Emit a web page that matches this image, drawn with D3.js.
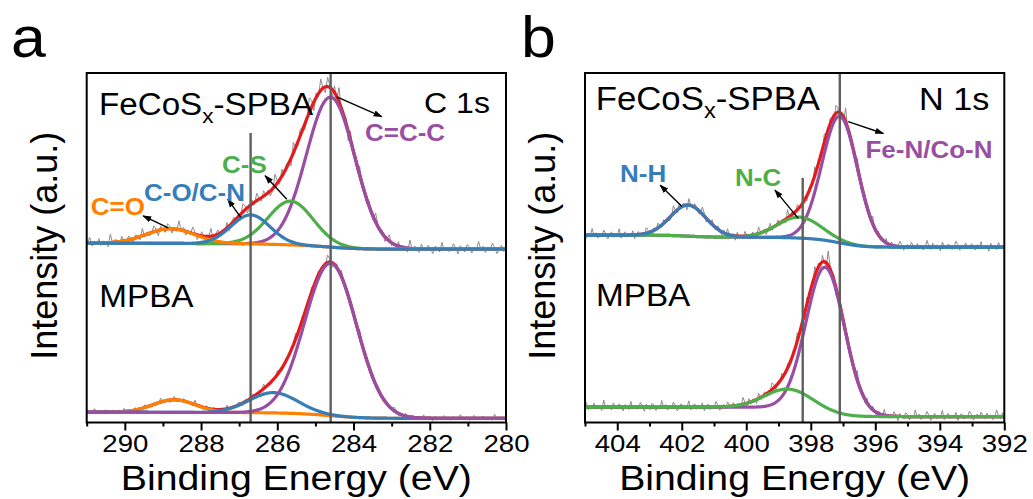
<!DOCTYPE html>
<html><head><meta charset="utf-8">
<script src="https://cdn.jsdelivr.net/npm/d3@7"></script>
<style>
body{margin:0;background:#fff}
svg{display:block}
text{font-family:"Liberation Sans",Arial,Helvetica,sans-serif}
</style>
</head><body>
<svg id="c" width="1033" height="499"></svg>
<script>
// ---------------- DATA ----------------
// C 1s, FeCoSx-SPBA : components  C=C-C, C-S, C-O/C-N, C=O
const c1sSPBA_labels = ["C=C-C", "C-S", "C-O/C-N", "C=O"];
const c1sSPBA_center = [284.6, 285.65, 286.7, 288.8];   // eV
const c1sSPBA_height = [42.9, 12.5, 8.3, 4.2];          // a.u.
const c1sSPBA_fwhm   = [1.5, 1.4, 1.2, 1.5];            // eV
const c1sSPBA_bg     = [51.3, 49.6];                    // background [high BE, low BE]
// C 1s, MPBA : components C=C-C, C-O/C-N, C=O
const c1sMPBA_center = [284.6, 286.1, 288.7];
const c1sMPBA_height = [43.6, 5.8, 3.6];
const c1sMPBA_fwhm   = [1.6, 1.5, 1.3];
const c1sMPBA_bg     = [2.95, 1.2];
// N 1s, FeCoSx-SPBA : components Fe-N/Co-N, N-C, N-H
const n1sSPBA_labels = ["Fe-N/Co-N", "N-C", "N-H"];
const n1sSPBA_center = [397.1, 398.35, 401.8];
const n1sSPBA_height = [36.2, 6.0, 8.9];
const n1sSPBA_fwhm   = [1.3, 1.6, 1.3];
const n1sSPBA_bg     = [53.6, 50.2];
// N 1s, MPBA : components Fe-N/Co-N, N-C
const n1sMPBA_center = [397.55, 398.7];
const n1sMPBA_height = [41.5, 5.4];
const n1sMPBA_fwhm   = [1.4, 1.7];
const n1sMPBA_bg     = [4.4, 1.7];
// measurement noise residuals of the raw spectra (a.u., estimated)
const rawNoise = [0.3,-0.5,0.8,-0.2,-0.9,0.4,1.2,-0.3,0.1,-0.7,0.6,-0.1,1.6,-0.4,0.2,-0.8,0.5,0.9,-0.6,0.0,
  0.7,-1.0,0.3,1.1,-0.2,-0.5,0.4,-0.3,1.4,-0.6,0.2,0.6,-0.9,0.1,0.8,-0.4,-0.1,1.0,-0.7,0.3,
  0.5,-0.2,1.7,-0.8,0.0,0.4,-0.5,0.9,-0.3,0.2,-0.6,1.2,0.1,-0.9,0.6,-0.2,0.3,1.5,-0.5,-0.1,
  0.7,-0.8,0.4,0.0,1.1,-0.6,0.2,-0.3,0.9,-1.0,0.5,0.1,-0.4,1.3,-0.2,0.6,-0.7,0.2,0.8,-0.5,
  0.0,1.0,-0.3,0.4,-0.8,0.6,1.4,-0.1,-0.6,0.3,0.7,-0.4,0.1,1.2,-0.9,0.2,0.5,-0.2,0.9,-0.6,
  0.3,1.6,-0.3,-0.7,0.4,0.0,0.8,-0.5,0.2,1.1,-0.4,0.6,-0.1,-0.8,0.5,1.3,-0.2,0.1,-0.6,0.7,
  0.3,-0.9,1.0,-0.3,0.4,-0.5,0.8,0.2,-0.7,1.5,-0.1];
// x axes
const c1sDomain = [291, 280];
const n1sDomain = [405, 392];
const c1sMajorTicks = [290, 288, 286, 284, 282, 280];
const c1sMinorTicks = [291, 289, 287, 285, 283, 281];
const n1sMajorTicks = [404, 402, 400, 398, 396, 394, 392];
const n1sMinorTicks = [405, 403, 401, 399, 397, 395, 393];
// reference (vertical) lines: energy and top intensity
const c1sRefE = [286.7, 284.6], c1sRefTop = [82.8, 100];
const n1sRefE = [398.25, 397.1], n1sRefTop = [70, 100];
// annotation arrows [E0, I0, E1, I1] (tail on curve -> head at label)
const c1sArrows = [[284.44, 93.2, 283.26, 87.5], [285.75, 63.9, 286.32, 70.6],
                   [286.96, 58.7, 287.30, 63.9], [288.86, 55.7, 289.52, 59.1]];
const n1sArrows = [[396.84, 86.1, 395.75, 82.7], [398.39, 58.4, 399.11, 66.5],
                   [402.0, 61.9, 402.67, 67.9]];

// ---------------- DRAWING ----------------
const COL = {purple:"#984ea3", green:"#4daf4a", blue:"#377eb8", orange:"#ff7f00", red:"#e41a1c"};
const svg = d3.select("#c");
const defs = svg.append("defs");
defs.append("marker").attr("id","ah").attr("viewBox","0 0 10 10")
  .attr("refX",9).attr("refY",5).attr("markerWidth",9).attr("markerHeight",9)
  .attr("markerUnits","userSpaceOnUse").attr("orient","auto")
  .append("path").attr("d","M0,1.5 L10,5 L0,8.5 Z").attr("fill","#000");

const STEP = 0.02;
function buildSpectrum(domain, sp) {
  const lo = Math.min(...domain), hi = Math.max(...domain);
  const n = Math.round((hi - lo) / STEP);
  const Es = d3.range(n + 1).map(i => lo + i * STEP);
  const comps = sp.center.map((c, k) => Es.map(E =>
    sp.height[k] * Math.exp(-4 * Math.LN2 * (E - c) * (E - c) / (sp.fwhm[k] * sp.fwhm[k]))));
  const sum = Es.map((E, i) => d3.sum(comps, cc => cc[i]));
  let acc = 0; const cum = sum.map(v => (acc += v));
  const bg = cum.map(v => sp.bg[1] + (sp.bg[0] - sp.bg[1]) * v / acc);
  return {Es, comps, sum, bg};
}

function txt(g, x, y, s, size, opt = {}) {
  const t = g.append("text")
    .attr("transform", `translate(${x},${y}) scale(${opt.sx || 1},1)`)
    .attr("font-size", size)
    .attr("font-weight", opt.bold ? "bold" : "normal")
    .attr("fill", opt.fill || "#000")
    .attr("text-anchor", opt.anchor || "start");
  if (opt.sub) {
    t.append("tspan").text(opt.sub[0]);
    t.append("tspan").attr("font-size", size * 0.68).attr("dy", size * 0.25).text(opt.sub[1]);
    t.append("tspan").attr("dy", -size * 0.25).text(opt.sub[2]);
  } else t.text(s);
  return t;
}

function panel(cfg) {
  const g = svg.append("g");
  const x = d3.scaleLinear().domain(cfg.domain).range([cfg.left, cfg.right]);
  const y = d3.scaleLinear().domain([0, 100]).range([cfg.bottom, cfg.top]);
  const clipId = "clip" + cfg.id;
  defs.append("clipPath").attr("id", clipId).append("rect")
    .attr("x", cfg.left).attr("y", cfg.top).attr("width", cfg.right - cfg.left).attr("height", cfg.bottom - cfg.top);
  const plot = g.append("g").attr("clip-path", `url(#${clipId})`);
  const line = d3.line().x(d => x(d[0])).y(d => y(d[1]));

  cfg.spectra.forEach(sp => {
    const S = buildSpectrum(cfg.domain, sp);
    // raw data
    const raw = [];
    for (let i = 0, j = 0; i < S.Es.length; i += 3, j++) {
      const nz = rawNoise[(j + sp.noiseOffset) % rawNoise.length] * sp.noiseLevel * (1 + 0.03 * S.sum[i]);
      raw.push([S.Es[i], S.bg[i] + S.sum[i] + nz]);
    }
    plot.append("path").attr("d", line(raw)).attr("fill","none").attr("stroke","#8c8c8c").attr("stroke-width",1);
    // envelope
    plot.append("path").attr("d", line(S.Es.map((E, i) => [E, S.bg[i] + S.sum[i]])))
      .attr("fill","none").attr("stroke",COL.red).attr("stroke-width",3.2);
    // components
    sp.order.forEach(k => {
      plot.append("path").attr("d", line(S.Es.map((E, i) => [E, S.bg[i] + S.comps[k][i]])))
        .attr("fill","none").attr("stroke",sp.colors[k]).attr("stroke-width",3.2)
        .attr("stroke-linejoin","round");
    });
  });

  // reference lines
  cfg.refE.forEach((e, i) => {
    g.append("line").attr("x1", x(e)).attr("x2", x(e)).attr("y1", y(cfg.refTop[i])).attr("y2", cfg.bottom)
      .attr("stroke","#5f5f5f").attr("stroke-width",2.4);
  });

  // arrows
  cfg.arrows.forEach(a => {
    g.append("line").attr("x1", x(a[0])).attr("y1", y(a[1])).attr("x2", x(a[2])).attr("y2", y(a[3]))
      .attr("stroke","#000").attr("stroke-width",1.4).attr("marker-end","url(#ah)");
  });

  // axis
  const ax = g.append("g").attr("transform", `translate(0,${cfg.bottom})`);
  ax.call(d3.axisBottom(x).tickValues(cfg.major).tickSize(8).tickFormat(d3.format("d")));
  const axm = g.append("g").attr("transform", `translate(0,${cfg.bottom})`);
  axm.call(d3.axisBottom(x).tickValues(cfg.minor).tickSize(4).tickFormat(""));
  [ax, axm].forEach(a => {
    a.select(".domain").remove();
    a.selectAll(".tick line").attr("stroke","#000").attr("stroke-width",2);
  });
  ax.attr("font-size", 24).attr("font-family", '"Liberation Sans",Arial,sans-serif');
  ax.selectAll(".tick text").attr("y", 29.5).attr("dy", null)
    .attr("font-size", 24).attr("fill","#000")
    .attr("transform", "scale(1.15,1)");

  // frame
  g.append("rect").attr("x", cfg.left).attr("y", cfg.top)
    .attr("width", cfg.right - cfg.left).attr("height", cfg.bottom - cfg.top)
    .attr("fill","none").attr("stroke","#000").attr("stroke-width",2);

  // axis titles
  txt(g, (cfg.left + cfg.right) / 2, 489.5, "Binding Energy (eV)", 36, {anchor:"middle", sx:1.09});
  g.append("text").attr("transform", `translate(${cfg.left - 30},${(cfg.top + cfg.bottom) / 2 - 2}) rotate(-90)`)
    .attr("text-anchor","middle").attr("font-size",36).text("Intensity (a.u.)");
  return g;
}

const gA = panel({
  id: "a", domain: c1sDomain, left: 86.7, right: 506, top: 73, bottom: 422.5,
  major: c1sMajorTicks, minor: c1sMinorTicks, refE: c1sRefE, refTop: c1sRefTop, arrows: c1sArrows,
  spectra: [
    {center: c1sSPBA_center, height: c1sSPBA_height, fwhm: c1sSPBA_fwhm, bg: c1sSPBA_bg,
     colors: [COL.purple, COL.green, COL.blue, COL.orange], order: [0, 1, 3, 2], noiseLevel: 1.4, noiseOffset: 0},
    {center: c1sMPBA_center, height: c1sMPBA_height, fwhm: c1sMPBA_fwhm, bg: c1sMPBA_bg,
     colors: [COL.purple, COL.blue, COL.orange], order: [2, 1, 0], noiseLevel: 0.7, noiseOffset: 37}
  ]
});
const gB = panel({
  id: "b", domain: n1sDomain, left: 585, right: 1004.3, top: 73, bottom: 422.5,
  major: n1sMajorTicks, minor: n1sMinorTicks, refE: n1sRefE, refTop: n1sRefTop, arrows: n1sArrows,
  spectra: [
    {center: n1sSPBA_center, height: n1sSPBA_height, fwhm: n1sSPBA_fwhm, bg: n1sSPBA_bg,
     colors: [COL.purple, COL.green, COL.blue], order: [0, 1, 2], noiseLevel: 1.2, noiseOffset: 61},
    {center: n1sMPBA_center, height: n1sMPBA_height, fwhm: n1sMPBA_fwhm, bg: n1sMPBA_bg,
     colors: [COL.purple, COL.green], order: [0, 1], noiseLevel: 1.2, noiseOffset: 97}
  ]
});

// panel letters
txt(svg, 11, 56.5, "a", 58, {sx:1.08});
txt(svg, 521, 56.5, "b", 58, {sx:1.08});

// panel a texts
txt(gA, 99, 115.3, "", 31, {sx:1.07, sub:["FeCoS","x","-SPBA"]});
txt(gA, 490, 113, "C 1s", 30, {sx:1.07, anchor:"end"});
txt(gA, 99.3, 306.7, "MPBA", 32, {sx:1.04});
txt(gA, 365, 140.5, c1sSPBA_labels[0], 23, {bold:true, fill:COL.purple, sx:1.13});
txt(gA, 222, 172.5, c1sSPBA_labels[1], 23, {bold:true, fill:COL.green, sx:1.13});
txt(gA, 144, 200.5, c1sSPBA_labels[2], 23, {bold:true, fill:COL.blue, sx:1.13});
txt(gA, 90.7, 215, c1sSPBA_labels[3], 23, {bold:true, fill:COL.orange, sx:1.13});

// panel b texts
txt(gB, 595.7, 109.7, "", 32.5, {sx:1.07, sub:["FeCoS","x","-SPBA"]});
txt(gB, 989.5, 109.7, "N 1s", 32, {sx:1.07, anchor:"end"});
txt(gB, 596, 306, "MPBA", 32, {sx:1.04});
txt(gB, 865.5, 158, n1sSPBA_labels[0], 23, {bold:true, fill:COL.purple, sx:1.13});
txt(gB, 735, 186, n1sSPBA_labels[1], 23, {bold:true, fill:COL.green, sx:1.13});
txt(gB, 620, 181.7, n1sSPBA_labels[2], 23, {bold:true, fill:COL.blue, sx:1.13});
</script>
</body></html>
